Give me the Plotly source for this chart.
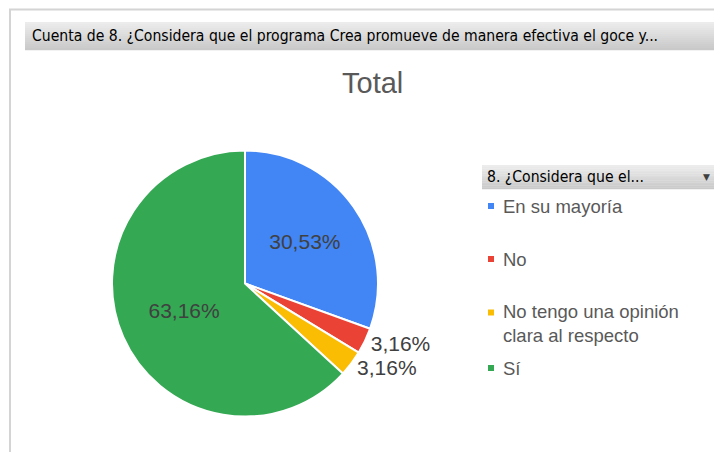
import plotly.graph_objects as go

# ---- data ----
categories = ["En su mayoría", "No", "No tengo una opinión clara al respecto", "Sí"]
legend_labels = ["En su mayoría", "No", "No tengo una opinión<br>clara al respecto", "Sí"]
counts = [29, 3, 3, 60]
colors = ["#4285F4", "#EA4335", "#FBBC04", "#34A853"]
text_positions = ["inside", "outside", "outside", "inside"]
header_text = "Cuenta de 8. ¿Considera que el programa Crea promueve de manera efectiva el goce y..."
legend_title = "8. ¿Considera que el..."
chart_title = "Total"

# page body has an 8px margin, so the figure is drawn slightly smaller and offset
OX, OY = 8, 8
W, H = 714, 444

def px(x):
    return (x - OX) / W

def py(y):
    return 1 - (y - OY) / H

fig = go.Figure()
fig.add_trace(go.Pie(
    labels=categories,
    values=counts,
    sort=False,
    direction="clockwise",
    rotation=0,
    marker=dict(colors=colors, line=dict(color="white", width=2)),
    texttemplate="%{percent:.2%}",
    textposition=text_positions,
    insidetextorientation="horizontal",
    textfont=dict(family="Liberation Sans, Arial", size=21, color="#404040"),
    hoverinfo="label+value+percent",
    showlegend=False,
    domain=dict(x=[px(112), px(378)], y=[py(417), py(150)]),
))

shapes = []
# outer panel border (top and left)
shapes.append(dict(type="line", xref="paper", yref="paper", x0=px(9), x1=1.0, y0=py(9.5), y1=py(9.5),
                   line=dict(color="#d4d4d4", width=2)))
shapes.append(dict(type="line", xref="paper", yref="paper", x0=px(10), x1=px(10), y0=py(9), y1=0,
                   line=dict(color="#d4d4d4", width=2)))

def gradient_bar(x0, x1, y0, y1, top="#ececec", bottom="#c9c9c9", steps=14):
    def hex2rgb(h):
        h = h.lstrip("#")
        return [int(h[i:i + 2], 16) for i in (0, 2, 4)]
    a, b = hex2rgb(top), hex2rgb(bottom)
    hgt = (y1 - y0) / steps
    out = []
    for i in range(steps):
        t = i / (steps - 1)
        c = [round(a[k] + (b[k] - a[k]) * t) for k in range(3)]
        out.append(dict(type="rect", xref="paper", yref="paper",
                        x0=px(x0), x1=px(x1), y0=py(y0 + i * hgt), y1=py(y0 + (i + 1) * hgt + 0.3),
                        fillcolor="rgb(%d,%d,%d)" % tuple(c), line=dict(width=0), layer="below"))
    return out

shapes += gradient_bar(25, 718, 22, 50)
shapes += gradient_bar(482, 720, 165, 189)

annotations = []
annotations.append(dict(text=header_text, xref="paper", yref="paper", x=px(30), y=py(36),
                        xanchor="left", yanchor="middle", showarrow=False,
                        font=dict(family="DejaVu Sans Condensed", size=15.6, color="#000000")))
annotations.append(dict(text=legend_title, xref="paper", yref="paper", x=px(485), y=py(177),
                        xanchor="left", yanchor="middle", showarrow=False,
                        font=dict(family="DejaVu Sans Condensed", size=15.6, color="#000000")))
annotations.append(dict(text="▼", xref="paper", yref="paper", x=px(706), y=py(177),
                        xanchor="center", yanchor="middle", showarrow=False,
                        font=dict(family="DejaVu Sans", size=9, color="#404040")))
annotations.append(dict(text=chart_title, xref="paper", yref="paper", x=px(372), y=py(83),
                        xanchor="center", yanchor="middle", showarrow=False,
                        font=dict(family="Liberation Sans, Arial", size=29, color="#595959")))

legend_y = [206, 259, 323, 368]
for lab, col, yy in zip(legend_labels, colors, legend_y):
    first_line_y = yy - 10.5 if "<br>" in lab else yy
    shapes.append(dict(type="rect", xref="paper", yref="paper",
                       x0=px(488), x1=px(494), y0=py(first_line_y - 3), y1=py(first_line_y + 3),
                       fillcolor=col, line=dict(width=0)))
    annotations.append(dict(text=lab, xref="paper", yref="paper", x=px(501), y=py(yy),
                            xanchor="left", yanchor="middle", align="left", showarrow=False,
                            font=dict(family="Liberation Sans, Arial", size=18.5, color="#595959")))

fig.update_layout(
    width=W, height=H,
    margin=dict(l=0, r=0, t=0, b=0),
    paper_bgcolor="white",
    plot_bgcolor="white",
    separators=",.",
    shapes=shapes,
    annotations=annotations,
)

fig.write_html("out.html")
